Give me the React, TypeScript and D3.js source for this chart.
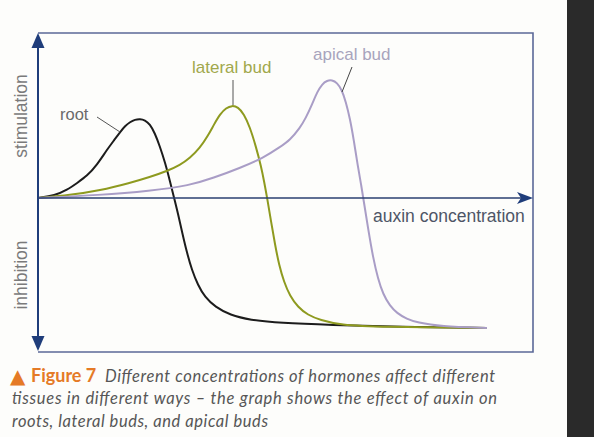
import React from "react";
import * as d3 from "d3";

// auxin concentration (arbitrary units 0-100) vs response (-100 inhibition .. +100 stimulation)
const rootX = [0, 3.4, 5.9, 7.9, 9.9, 11.9, 13.9, 15.4, 16.6, 17.6, 18.6, 19.6, 20.6, 21.6, 22.6, 23.6, 24.6, 25.7, 26.7, 27.5, 28.3, 29.1, 30.1, 31.1, 32.3, 33.7, 35.8, 38.8, 42.8, 48.9, 59, 73.1, 90.7];
const rootY = [0, 1.6, 5.2, 9.7, 14.2, 21.3, 31, 37.4, 42.6, 46.5, 49, 50.6, 51, 50.3, 47.7, 41.9, 33.5, 22.6, 10.3, 0, -10.3, -21.9, -35.5, -46.5, -56.1, -63.9, -70.3, -75.5, -78.7, -80.6, -81.9, -83.2, -83.9];

const lateralX = [0, 6.5, 12.5, 18.6, 22.6, 26.1, 28.7, 30.7, 32.7, 34.3, 35.6, 36.8, 38, 39.2, 40.4, 41.6, 42.8, 44, 45.1, 45.7, 46.3, 47.1, 47.9, 48.7, 49.7, 50.9, 52.5, 54.5, 57, 61, 69.1, 90.7];
const lateralY = [0, 1.9, 4.8, 9.7, 13.5, 17.4, 21.3, 25.8, 32.3, 40, 47.7, 54.2, 58.1, 59.7, 58.7, 54.2, 45.8, 33.5, 20, 10.3, 0, -15.5, -30.3, -43.2, -54.2, -63.2, -70.3, -75.5, -78.7, -81.9, -83.2, -83.9];

const apicalX = [0, 12.5, 22.6, 30.7, 35.4, 40.8, 45.5, 48.9, 50.9, 52.9, 54.1, 55.4, 56.4, 57.4, 58.4, 59.4, 60.4, 61.4, 62.2, 63, 63.8, 64.6, 65.3, 65.9, 66.7, 67.7, 68.7, 69.7, 71.1, 72.5, 74.5, 76.6, 81.2, 90.7];
const apicalY = [0, 1.9, 4.5, 8.1, 12.9, 19.4, 25.8, 32.9, 37.4, 45.2, 51.6, 60.6, 68.4, 73.5, 75.8, 76.1, 74.5, 69.7, 61.9, 51.6, 37.4, 20.6, 8.4, -3.9, -20, -38.7, -52.3, -61.9, -69.7, -74.2, -78.1, -80.3, -82.9, -83.9];

const seriesNames = ["root", "lateral bud", "apical bud"];
const xAxisLabel = "auxin concentration";
const yAxisLabels = ["stimulation", "inhibition"];
const captionHead = "Figure 7";
const captionLines = [
  "Different concentrations of hormones affect different",
  "tissues in different ways – the graph shows the effect of auxin on",
  "roots, lateral buds, and apical buds",
];

export default function App() {
  const W = 594, H = 437;
  const left = 38, right = 533, top = 33, bottom = 352;
  const x = d3.scaleLinear().domain([0, 100]).range([left, right]);
  const y = d3.scaleLinear().domain([-100, 100]).range([353, 43]);
  const line = d3
    .line<[number, number]>()
    .x((d) => x(d[0]))
    .y((d) => y(d[1]))
    .curve(d3.curveBasis);
  const zip = (a: number[], b: number[]) => a.map((v, i) => [v, b[i]] as [number, number]);
  const series = [
    { name: seriesNames[0], pts: zip(rootX, rootY), color: "#1c1c1c" },
    { name: seriesNames[1], pts: zip(lateralX, lateralY), color: "#8e9a1f" },
    { name: seriesNames[2], pts: zip(apicalX, apicalY), color: "#a99dc6" },
  ];
  const y0 = y(0);
  const axisCol = "#1f3d7a";
  const frameCol = "#5b6898";
  const labelFont = "'Liberation Sans', Arial, sans-serif";
  const capFont = "Lato, 'Open Sans', sans-serif";

  return (
    <svg width={W} height={H} style={{ position: "fixed", left: 0, top: 0 }}>
      <rect x={0} y={0} width={W} height={H} fill="#fdfdfb" />
      <rect x={567} y={0} width={W - 567} height={H} fill="#2a2a2a" />
      {/* frame */}
      <path d={`M${left},${top}H${right}V${bottom}H${left}`} fill="none" stroke={frameCol} strokeWidth={1.6} />
      {/* curves */}
      {series.map((s) => (
        <path key={s.name} d={line(s.pts) || ""} fill="none" stroke={s.color} strokeWidth={2} strokeLinejoin="round" />
      ))}
      {/* axes */}
      <line x1={left} x2={left} y1={top + 10} y2={bottom - 10} stroke={axisCol} strokeWidth={2} />
      <path d={`M${left},${top}L${left - 6.5},${top + 15}L${left + 6.5},${top + 15}Z`} fill={axisCol} />
      <path d={`M${left},${bottom - 1}L${left - 6.5},${bottom - 16}L${left + 6.5},${bottom - 16}Z`} fill={axisCol} />
      <line x1={left} x2={right - 10} y1={y0} y2={y0} stroke="#2a3f70" strokeWidth={1.6} />
      <path d={`M${right},${y0}L${right - 16},${y0 - 6}L${right - 12},${y0}L${right - 16},${y0 + 6}Z`} fill={axisCol} />
      {/* axis labels */}
      <text x={373} y={222} fontFamily={labelFont} fontSize={17.5} fill="#4e5566">{xAxisLabel}</text>
      <text transform={`translate(27,116) rotate(-90)`} textAnchor="middle" fontFamily={labelFont} fontSize={17.5} fill="#7a7a7a">{yAxisLabels[0]}</text>
      <text transform={`translate(27,275) rotate(-90)`} textAnchor="middle" fontFamily={labelFont} fontSize={17.5} fill="#7a7a7a">{yAxisLabels[1]}</text>
      {/* series labels */}
      <text x={60} y={120} fontFamily={labelFont} fontSize={16.5} fill="#6a6a6a">{seriesNames[0]}</text>
      <line x1={97} y1={117} x2={120} y2={132} stroke="#555" strokeWidth={1} />
      <text x={192} y={73} fontFamily={labelFont} fontSize={17} fill="#a1a84c">{seriesNames[1]}</text>
      <line x1={233} y1={80} x2={233} y2={105} stroke="#555" strokeWidth={1} />
      <text x={313} y={60} fontFamily={labelFont} fontSize={17} fill="#a8a4bd">{seriesNames[2]}</text>
      <line x1={352} y1={67} x2={342} y2={92} stroke="#444" strokeWidth={1} />
      {/* caption */}
      <text x={10} y={383} fontFamily="'DejaVu Sans', sans-serif" fontSize={20} fill="#e57a26">▲</text>
      <text x={31} y={382} fontFamily={capFont} fontWeight="bold" fontSize={18} fill="#e57a26">{captionHead}</text>
      <text x={105} y={382} fontFamily={capFont} fontStyle="italic" fontSize={16.5} fill="#565656" textLength={390}>{captionLines[0]}</text>
      <text x={12} y={404} fontFamily={capFont} fontStyle="italic" fontSize={16.5} fill="#565656" textLength={485}>{captionLines[1]}</text>
      <text x={12} y={427} fontFamily={capFont} fontStyle="italic" fontSize={16.5} fill="#565656" textLength={256}>{captionLines[2]}</text>
    </svg>
  );
}
